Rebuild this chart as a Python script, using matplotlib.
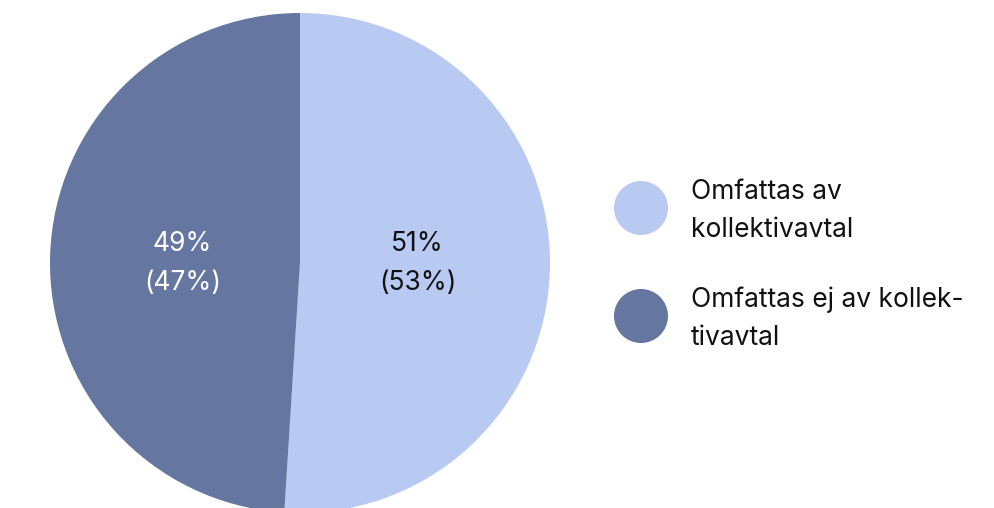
import matplotlib
matplotlib.use("Agg")
import matplotlib.pyplot as plt
from matplotlib.patches import Circle
import numpy as np

plt.rcParams['font.family'] = ['Inter', 'DejaVu Sans']

categories = ["Omfattas av\nkollektivavtal", "Omfattas ej av kollek-\ntivavtal"]
values = [51, 49]
previous = [53, 47]
colors = ["#b8c9f2", "#6576a0"]
text_colors = ["#111111", "#ffffff"]

W, H = 994, 508
fig = plt.figure(figsize=(W / 100, H / 100), dpi=100)

cx, cy, r = 300, 263, 250
ax = fig.add_axes([(cx - r) / W, (H - cy - r) / H, 2 * r / W, 2 * r / H])
wedges, _ = ax.pie(values, colors=colors, startangle=90, counterclock=False,
                   radius=1, wedgeprops=dict(linewidth=0))
ax.set_xlim(-1, 1)
ax.set_ylim(-1, 1)
ax.set_aspect('equal')
ax.axis('off')
for w in wedges:
    w.set_clip_on(False)

start = 90.0
total = sum(values)
for v, p, tc in zip(values, previous, text_colors):
    ang = start - v / total * 360 / 2
    start -= v / total * 360
    rr = 0.47
    x = rr * np.cos(np.radians(ang))
    ax.text(x, -0.002, f"{v}%\n({p}%)", ha='center', va='center', color=tc,
            fontsize=19, linespacing=1.65)

# legend overlay in pixel coordinates
lax = fig.add_axes([0, 0, 1, 1])
lax.set_xlim(0, W)
lax.set_ylim(H, 0)
lax.axis('off')
leg_y = [208, 316]
for cat, col, ly in zip(categories, colors, leg_y):
    lax.add_patch(Circle((641, ly), 27, color=col, lw=0))
    lax.text(691, ly + 3, cat, ha='left', va='center', fontsize=19,
             color='#111111', linespacing=1.6)

fig.savefig("out.png", dpi=100)
